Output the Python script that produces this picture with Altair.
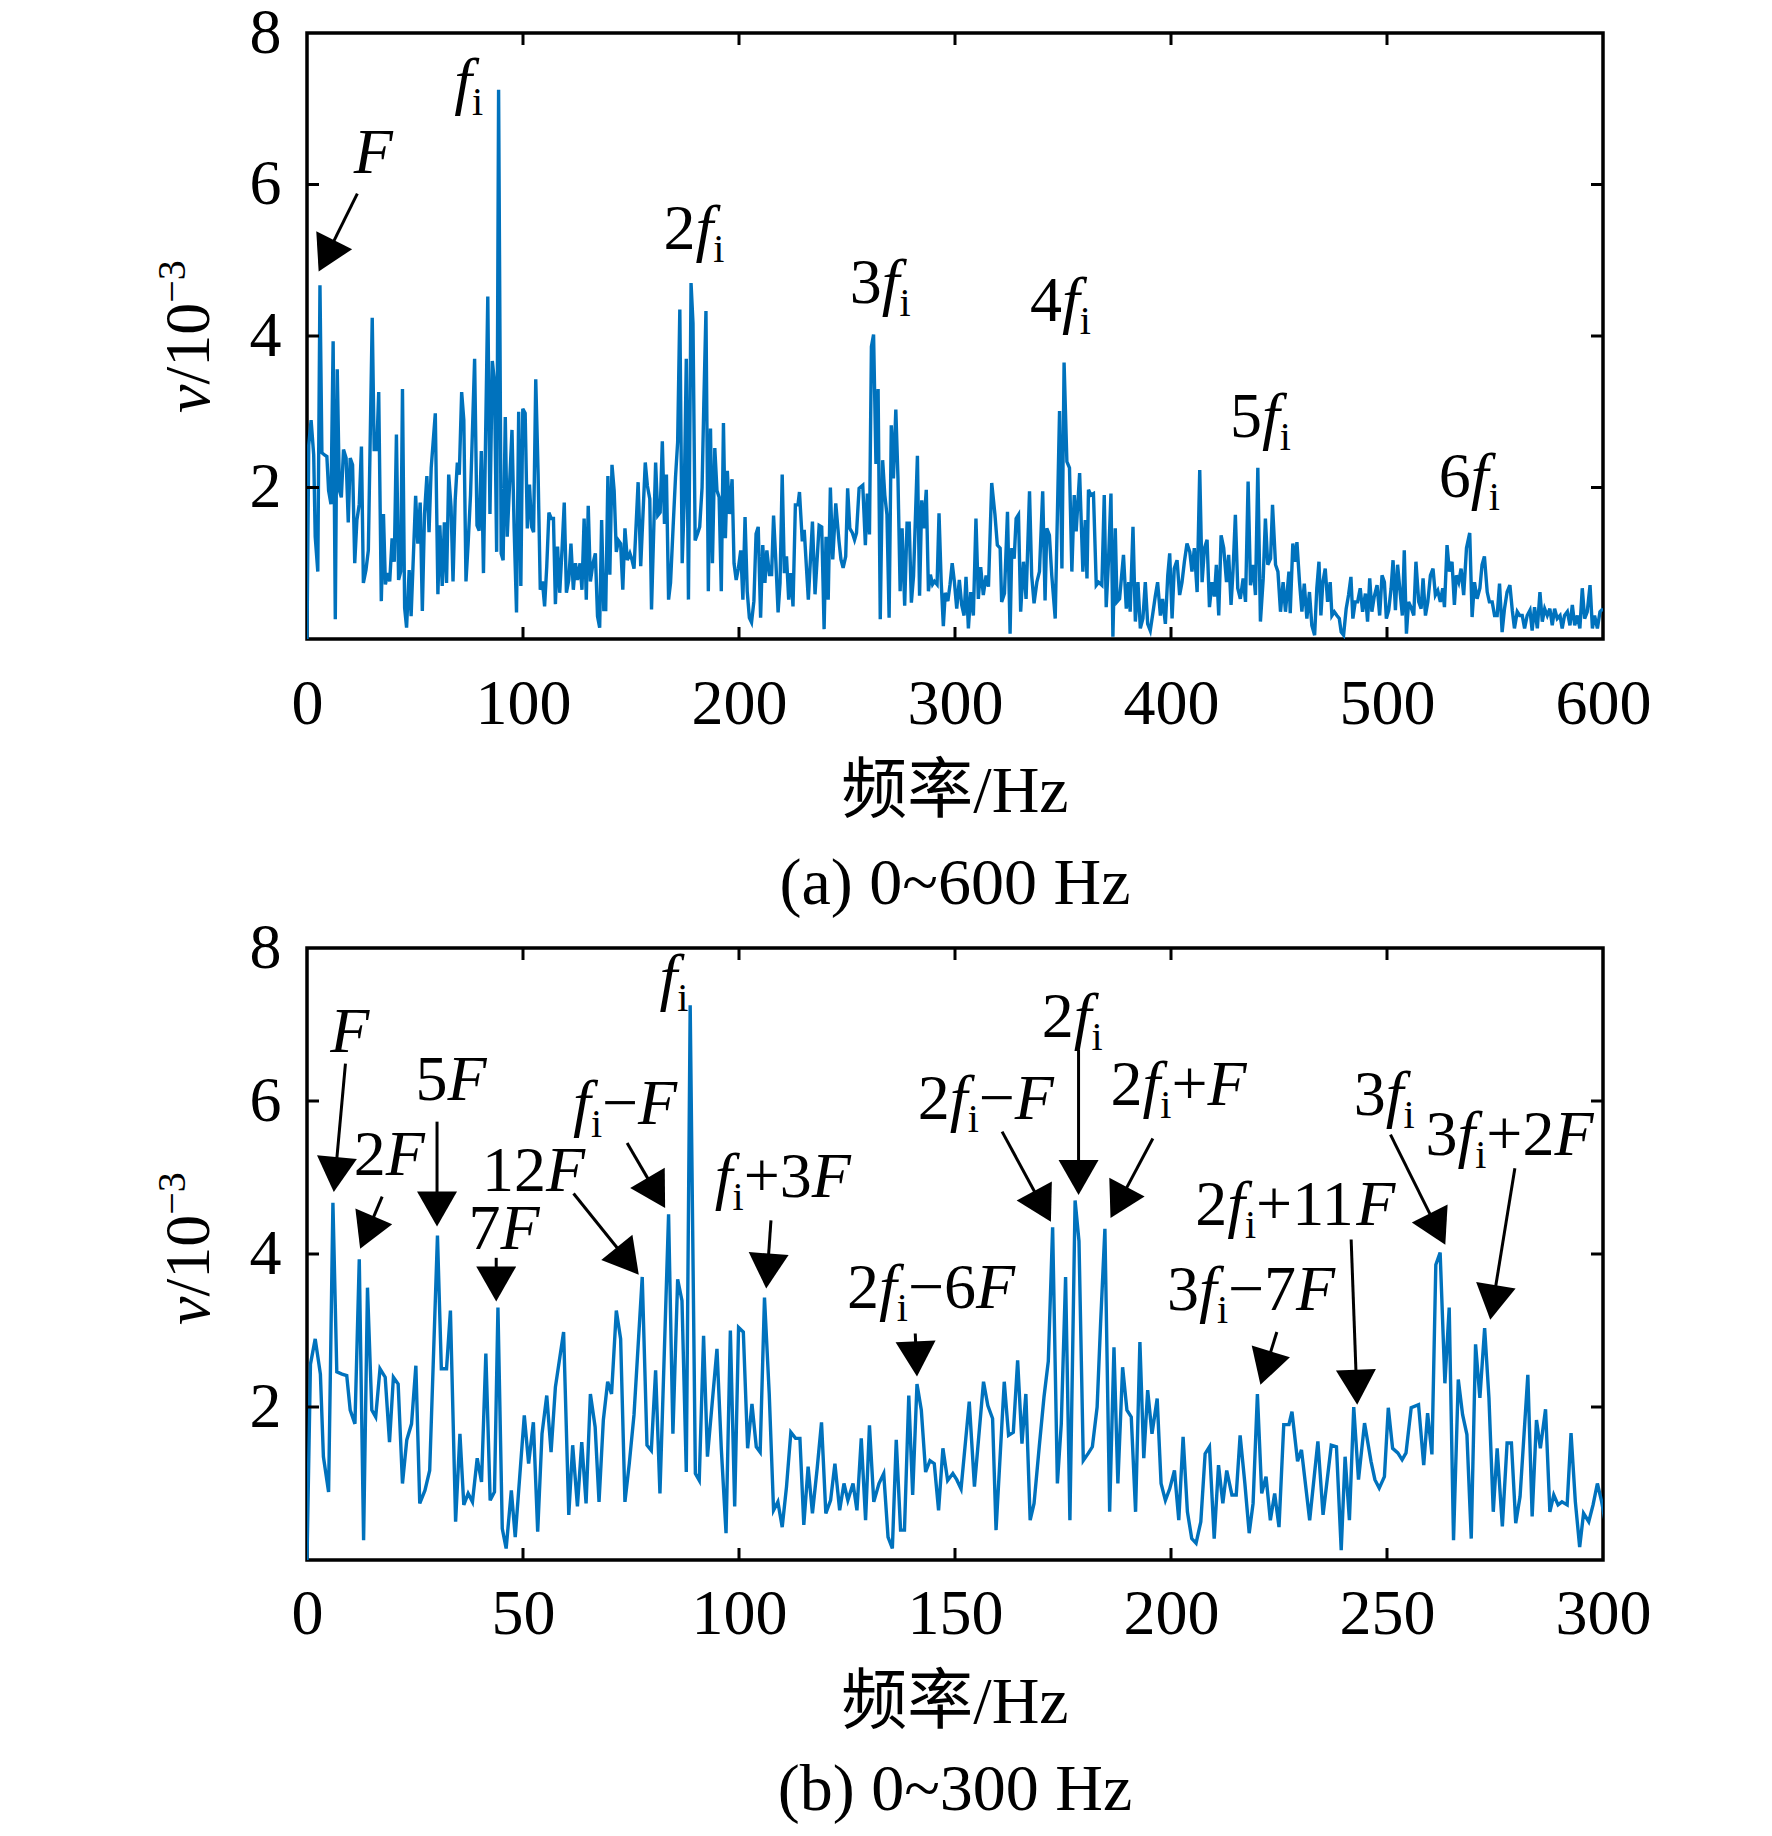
import math
import altair as alt
import pandas as pd

# ---------------- data ----------------
# spectrum 0-300 Hz
FREQ_LOW = [0, 0.8, 1.9, 3.1, 3.8, 5.0, 6.0, 6.9, 8.1, 9.2, 10.0, 11.1, 12.1, 13.1, 14.0, 15.0, 15.9, 16.9,
            18.1, 19.1, 20.0, 21.1, 22.1, 23.1, 24.2, 25.2, 26.1, 27.3, 28.4, 30.2, 31.1, 32.3, 33.2, 34.4,
            35.4, 36.3, 37.3, 38.3, 39.4, 40.4, 41.4, 42.4, 43.4, 44.2, 45.2, 46.1, 47.3, 48.2, 50.3, 51.3,
            52.4, 53.4, 54.4, 55.5, 56.5, 57.5, 58.4, 59.4, 60.6, 61.5, 62.6, 63.6, 64.6, 65.6, 66.7, 67.6,
            68.6, 69.6, 70.5, 71.6, 72.6, 73.6, 74.6, 75.7, 77.6, 78.7, 79.7, 80.7, 81.7, 83.7, 84.7, 85.8,
            86.8, 87.8, 88.7, 89.9, 90.8, 91.8, 92.7, 94.9, 95.9, 97.0, 98.0, 99.0, 99.9, 101.0, 102.0, 103.0,
            104.0, 104.9, 105.9, 107.0, 108.0, 109.0, 110.0, 111.0, 112.0, 113.1, 114.1, 115.0, 116.0, 117.0,
            118.1, 119.1, 120.1, 121.2, 122.2, 123.3, 124.3, 125.2, 126.4, 127.3, 128.3, 129.3, 130.2, 131.2,
            132.4, 133.5, 134.5, 135.5, 136.4, 137.4, 138.3, 139.3, 140.2, 141.2, 142.2, 143.2, 144.2, 145.2,
            146.2, 147.2, 148.3, 149.5, 150.4, 151.4, 153.3, 154.5, 156.6, 157.6, 158.7, 159.5, 161.4, 162.4,
            163.5, 164.5, 165.5, 166.4, 167.4, 168.3, 169.5, 170.6, 171.6, 172.6, 173.7, 174.6, 175.6, 176.6,
            177.8, 178.7, 179.7, 180.8, 181.8, 182.9, 183.7, 184.7, 185.8, 186.8, 187.7, 188.8, 189.8, 190.8,
            191.8, 192.8, 193.7, 194.6, 195.6, 196.8, 197.7, 198.7, 199.7, 200.8, 201.8, 202.8, 203.8, 204.8,
            205.8, 206.9, 207.9, 208.9, 210.0, 211.0, 212.0, 212.9, 214.1, 215.1, 216.0, 217.1, 218.1, 219.0,
            220.0, 221.0, 222.0, 223.0, 224.0, 225.0, 226.1, 227.3, 228.0, 229.3, 230.2, 232.1, 234.0, 235.2,
            237.1, 238.3, 239.4, 240.3, 241.3, 242.3, 243.4, 244.8, 246.3, 247.2, 248.2, 249.4, 250.3, 251.3,
            252.5, 253.5, 254.4, 255.6, 257.3, 258.5, 259.4, 260.4, 261.3, 262.3, 263.4, 264.4, 265.4, 266.5,
            267.5, 268.5, 269.5, 270.5, 271.5, 272.6, 273.6, 274.6, 275.5, 276.7, 277.8, 278.8, 279.8, 280.8,
            282.6, 283.6, 284.6, 285.5, 286.7, 287.7, 288.6, 289.6, 290.5, 291.7, 292.6, 293.6, 294.6, 295.5,
            296.7, 297.7, 298.7, 299.7]
AMP_LOW = [0.0, 2.56, 2.89, 2.43, 1.35, 0.89, 4.67, 2.46, 2.43, 2.41, 1.96, 1.78, 3.93, 0.26, 3.56, 1.96, 1.87, 2.5,
           2.39, 1.54, 2.39, 2.3, 1.0, 1.57, 1.78, 2.54, 0.74, 0.91, 1.17, 4.24, 2.5, 2.5, 3.26, 0.5,
           1.65, 0.72, 0.87, 0.76, 1.33, 1.02, 2.7, 0.78, 0.89, 3.3, 0.41, 0.15, 0.91, 0.3, 1.89, 1.26,
           1.8, 0.37, 1.65, 2.15, 1.41, 2.26, 2.6, 2.98, 0.59, 1.5, 0.7, 1.54, 0.74, 2.17, 1.74, 0.76,
           1.83, 2.33, 2.17, 3.26, 2.89, 0.76, 1.26, 1.9, 3.7, 1.5, 1.43, 2.48, 0.87, 4.52, 1.65, 3.67,
           3.39, 1.15, 7.25, 1.13, 1.04, 2.93, 1.35, 2.76, 1.46, 0.35, 3.0, 0.7, 3.04, 2.98, 1.46, 2.04,
           1.48, 1.41, 3.43, 2.17, 0.65, 0.76, 0.43, 0.96, 1.67, 1.59, 1.59, 0.46, 1.22, 0.61,
           1.2, 1.8, 0.61, 0.78, 1.26, 0.65, 1.0, 0.78, 1.0, 0.65, 1.59, 0.52, 1.76, 0.76,
           1.0, 1.13, 0.3, 0.15, 1.57, 0.39, 0.39, 2.15, 0.85, 2.3, 1.96, 1.15, 1.3, 1.26,
           0.65, 1.46, 1.04, 1.13, 1.05, 0.93, 2.07, 0.96, 2.33, 2.02, 1.85, 0.39, 2.33, 1.63,
           1.67, 2.61, 1.52, 2.17, 0.52, 0.74, 1.48, 2.13, 2.6, 4.35, 1.0, 1.78, 3.7, 0.52,
           4.7, 4.17, 1.3, 1.39, 1.48, 2.0, 3.09, 4.33, 0.63, 2.78, 1.0, 2.52, 1.96, 1.87,
           0.63, 2.85, 1.33, 2.22, 1.65, 2.11, 1.0, 0.78, 0.93, 1.17, 0.52, 1.61, 0.63, 0.28,
           0.22, 0.5, 1.39, 1.48, 0.28, 1.24, 0.74, 1.17, 0.85, 0.85, 1.63, 1.0, 0.35, 0.74,
           2.17, 0.87, 1.09, 0.52, 0.87, 0.43, 1.77, 1.77, 1.94, 1.29, 1.44, 0.52, 1.55, 0.59,
           1.5, 1.48, 0.13, 1.35, 0.52, 2.0, 1.05, 1.79, 1.29, 1.05, 0.94, 1.09, 1.99, 1.46,
           1.4, 1.31, 1.4, 1.99, 2.03, 1.24, 1.92, 1.38, 3.86, 4.02, 2.31, 3.3, 0.26, 2.36,
           1.9, 1.64, 0.28, 2.82, 2.12, 3.03, 2.12, 0.63, 1.46, 0.44, 1.53, 1.53, 0.48, 0.83,
           2.42, 0.57, 1.83, 1.46, 1.97, 0.63, 0.85, 0.72, 0.76, 0.72, 1.66, 0.76, 0.17, 0.61,
           0.5, 0.72, 1.0, 0.76]
# spectrum 300-600 Hz
FREQ_HIGH = [300.8, 302.0, 303.1, 304.2, 305.1, 306.2, 307.3, 308.5, 309.7, 310.8, 311.9, 313.1, 314.4, 315.5,
             317.0, 318.5, 319.6, 320.9, 321.6, 322.9, 324.3, 325.5, 326.3, 327.4, 328.3, 329.4, 330.4, 331.7,
             332.9, 334.5, 335.5, 336.6, 337.9, 339.1, 340.6, 341.7, 342.5, 343.7, 344.8, 346.4, 348.4, 349.5,
             350.5, 351.8, 353.0, 354.1, 355.2, 356.1, 357.7, 359.2, 360.3, 361.1, 361.8, 362.9, 364.1, 365.4,
             366.5, 368.0, 369.1, 370.0, 371.1, 372.2, 373.1, 374.2, 375.0, 376.2, 377.3, 378.0, 379.3, 380.4,
             381.1, 382.4, 383.5, 384.7, 385.8, 387.0, 388.1, 389.2, 390.4, 391.7, 392.7, 393.8, 395.1, 396.1,
             397.4, 398.5, 399.4, 400.5, 401.5, 402.8, 404.0, 405.1, 406.2, 407.4, 408.7, 409.7, 410.8, 412.1,
             413.3, 414.4, 415.5, 416.7, 417.8, 419.0, 420.1, 421.0, 422.1, 423.2, 424.4, 425.7, 426.7, 427.8,
             428.7, 429.8, 430.9, 432.1, 433.4, 434.5, 435.7, 436.8, 438.0, 439.1, 440.2, 441.4, 442.7, 443.7,
             444.8, 446.1, 447.0, 448.4, 449.5, 450.7, 451.9, 453.0, 454.6, 455.2, 456.4, 457.5, 458.3, 459.5,
             460.6, 461.7, 462.9, 464.1, 465.2, 466.5, 467.5, 468.5, 469.4, 470.3, 471.4, 472.5, 473.7, 474.5,
             475.6, 476.8, 477.9, 478.8, 479.9, 481.1, 482.2, 483.3, 484.2, 485.3, 486.4, 487.6, 488.7, 490.0,
             491.0, 492.0, 493.0, 494.1, 495.4, 496.6, 497.7, 498.8, 499.7, 500.8, 501.9, 502.8, 503.9, 504.9,
             506.2, 507.1, 508.0, 509.0, 510.0, 511.1, 512.4, 513.4, 514.7, 515.8, 516.7, 517.8, 518.9, 520.1,
             521.3, 522.4, 523.5, 524.7, 525.8, 526.6, 527.8, 528.9, 530.1, 531.2, 532.1, 533.2, 534.3, 535.5,
             536.8, 538.3, 539.4, 540.5, 541.7, 543.0, 544.0, 545.1, 546.4, 547.4, 548.7, 549.8, 551.0, 552.1,
             553.3, 554.4, 555.6, 556.9, 558.0, 559.0, 560.3, 561.4, 562.6, 563.7, 564.9, 566.2, 567.2, 568.3,
             569.6, 570.8, 571.9, 573.0, 574.2, 575.4, 576.5, 577.6, 578.8, 580.1, 581.1, 582.2, 583.5, 584.7,
             585.8, 586.9, 588.1, 589.3, 590.4, 591.5, 592.7, 594.0, 595.1, 596.1, 597.4, 598.6, 600.0]
AMP_HIGH = [0.40, 0.78, 0.45, 0.31, 0.82, 0.14, 0.62, 0.31, 1.59, 0.53, 0.95, 0.58, 0.84, 0.69,
            2.06, 1.64, 1.24, 1.2, 0.49, 0.6, 1.68, 0.07, 1.2, 1.06, 1.59, 1.64, 0.36, 1.02,
            0.53, 1.95, 0.84, 0.47, 0.75, 0.89, 1.95, 0.51, 1.46, 1.37, 0.84, 0.27, 3.01, 0.93,
            3.65, 2.34, 2.26, 0.89, 1.9, 1.42, 2.19, 0.89, 1.57, 0.8, 1.97, 1.9, 1.92, 0.71,
            0.75, 0.71, 1.9, 0.42, 1.06, 1.92, 0.03, 1.46, 0.49, 0.53, 0.89, 1.11, 0.4, 0.75,
            0.36, 1.48, 0.23, 0.75, 0.14, 0.27, 0.75, 0.2, 0.11, 0.36, 0.56, 0.75, 0.31, 0.53,
            0.2, 0.84, 1.13, 0.27, 0.93, 1.04, 0.58, 0.75, 1.02, 1.26, 1.15, 0.89, 1.2, 0.62,
            2.23, 0.75, 1.2, 1.31, 0.42, 0.75, 0.56, 0.98, 0.31, 1.37, 1.2, 0.75, 1.11, 0.45,
            0.89, 1.64, 0.67, 0.53, 0.8, 0.49, 2.08, 0.71, 0.98, 0.58, 2.26, 0.23, 0.8, 1.59,
            0.98, 1.06, 1.77, 0.98, 0.89, 0.36, 0.75, 0.36, 0.89, 0.34, 1.26, 1.02, 1.28, 0.75,
            0.36, 0.73, 0.27, 0.62, 0.18, 0.05, 0.67, 1.02, 0.31, 0.75, 0.93, 0.49, 0.75, 0.31,
            0.36, 0.31, 0.27, 0.09, 0.05, 0.4, 0.58, 0.82, 0.27, 0.49, 0.49, 0.67, 0.36, 0.6,
            0.23, 0.8, 0.36, 0.56, 0.71, 0.31, 0.84, 0.75, 0.27, 0.38, 0.67, 1.04, 0.38, 0.98,
            0.58, 0.31, 1.17, 0.07, 0.49, 0.42, 0.31, 1.02, 0.49, 0.4, 0.8, 0.31, 0.49, 0.84,
            0.93, 0.58, 0.64, 0.49, 0.67, 0.42, 1.24, 0.89, 1.02, 0.45, 0.84, 0.75, 0.93, 0.58,
            1.2, 1.4, 0.29, 0.75, 0.53, 0.67, 0.98, 1.09, 0.62, 0.49, 0.49, 0.31, 0.31, 0.73,
            0.09, 0.4, 0.62, 0.71, 0.38, 0.14, 0.36, 0.31, 0.31, 0.14, 0.31, 0.38, 0.11, 0.42,
            0.14, 0.62, 0.23, 0.4, 0.31, 0.4, 0.18, 0.4, 0.27, 0.31, 0.14, 0.31, 0.36, 0.18,
            0.45, 0.18, 0.31, 0.14, 0.67, 0.27, 0.36, 0.71, 0.14, 0.31, 0.14, 0.36, 0.4]

X_TICKS_A = [0, 100, 200, 300, 400, 500, 600]
X_TICKS_B = [0, 50, 100, 150, 200, 250, 300]
Y_TICKS = [2, 4, 6, 8]

XTITLE = "频率/Hz"
CAPTION_A = "(a) 0~600 Hz"
CAPTION_B = "(b) 0~300 Hz"

# annotation labels: (markup, left frequency, baseline amplitude); "_i" = subscript i
LABELS_A = [("F", 21.7, 6.15), ("f_i", 68.2, 7.09), ("2f_i", 165.0, 5.15), ("3f_i", 251.3, 4.44),
            ("4f_i", 334.7, 4.2), ("5f_i", 427.3, 2.67), ("6f_i", 524.0, 1.87)]
# arrows: (tail freq, tail amp, tip freq, tip amp)
ARROWS_A = [(23.3, 5.88, 5.4, 4.85)]

LABELS_B = [("F", 5.4, 6.64), ("2F", 10.8, 5.03), ("5F", 25.1, 6.01), ("7F", 37.4, 4.07),
            ("12F", 40.5, 4.82), ("f_i\u2212F", 61.6, 5.7), ("f_i", 81.6, 7.35), ("f_i+3F", 94.4, 4.75),
            ("2f_i\u22126F", 125.0, 3.29), ("2f_i\u2212F", 141.4, 5.77), ("2f_i", 170.1, 6.84),
            ("2f_i+F", 186.0, 5.95), ("3f_i\u22127F", 199.1, 3.27), ("2f_i+11F", 205.6, 4.38),
            ("3f_i", 242.3, 5.82), ("3f_i+2F", 258.9, 5.29)]
ARROWS_B = [(8.9, 6.49, 6.2, 4.81), (17.4, 4.75, 12.3, 4.07), (30.1, 5.73, 30.1, 4.36),
            (43.8, 3.95, 43.8, 3.38), (61.7, 4.79, 76.8, 3.73), (74.1, 5.45, 82.9, 4.6),
            (107.4, 4.44, 106.3, 3.55), (140.8, 2.96, 141.2, 2.4), (160.9, 5.6, 172.2, 4.42),
            (178.6, 6.67, 178.6, 4.77), (195.8, 5.51, 186.0, 4.47), (224.5, 2.98, 220.7, 2.29),
            (241.7, 4.19, 243.1, 2.03), (250.8, 5.56, 263.5, 4.12), (279.6, 5.12, 273.9, 3.14)]

# ---------------- styling ----------------
FONT = "Liberation Serif"
FONT_CJK = "Liberation Serif, Noto Sans CJK SC"
BLUE = "#0072BD"
FS = 64
FS_SUB = 40
FS_TITLE = 66
W = 1296
H_A = 606
H_B = 612

EM_N = {"0": .5, "1": .5, "2": .5, "3": .5, "4": .5, "5": .5, "6": .5, "7": .5, "8": .5, "9": .5,
        "+": .564, "\u2212": .564, "i": .278, "/": .278}
EM_IT = {"f": .278, "F": .611, "v": .444}

ARROW_PATH = "M0,0L-1,-1.75L1,-1.75Z"


def parse(markup):
    segs = []
    k = 0
    while k < len(markup):
        ch = markup[k]
        if ch == "_":
            st, c = "sub", markup[k + 1]
            k += 2
        else:
            st, c = ("it" if ch in EM_IT else "n"), ch
            k += 1
        if segs and segs[-1][1] == st:
            segs[-1][0] += c
        else:
            segs.append([c, st])
    return segs


def seg_width(text, style):
    if style == "it":
        return sum(EM_IT[c] for c in text) * FS
    if style == "sub":
        return sum(EM_N[c] for c in text) * FS_SUB
    return sum(EM_N[c] for c in text) * FS


def label_frame(labels, px_per_x):
    rows = []
    for markup, x0, y0 in labels:
        off = 0.0
        for text, style in parse(markup):
            rows.append({"x": x0 + off / px_per_x, "y": y0, "text": text, "style": style})
            off += seg_width(text, style)
    return pd.DataFrame(rows)


def arrow_frame(arrows, px_x, px_y):
    rows = []
    for tx, ty, hx, hy in arrows:
        dxp = (hx - tx) * px_x
        dyp = -(hy - ty) * px_y
        L = math.hypot(dxp, dyp)
        ang = math.degrees(math.atan2(-dxp, dyp)) % 360
        back = 24.0
        ex = hx - (dxp / L * back) / px_x
        ey = hy + (dyp / L * back) / px_y
        rows.append({"x": tx, "y": ty, "x2": ex, "y2": ey, "hx": hx, "hy": hy, "angle": ang})
    return pd.DataFrame(rows)


def panel(spec_df, xmax, height, xticks, labels, arrows, caption, label_pad, title_off, cap_off, ytitle_y):
    xs = alt.Scale(domain=[0, xmax], nice=False, zero=False)
    ys = alt.Scale(domain=[0, 8], nice=False, zero=False)
    xax = alt.Axis(values=xticks, title=None, grid=False, domain=False, ticks=False, tickSize=0,
                   labelFlush=False, labelPadding=label_pad, labelFont=FONT, labelFontSize=FS,
                   labelColor="black", labelOverlap=False)
    yax = alt.Axis(values=Y_TICKS, title=None, grid=False, domain=False, ticks=False, tickSize=0,
                   labelPadding=26, labelFont=FONT, labelFontSize=FS, labelColor="black",
                   labelOverlap=False)

    def X(field):
        return alt.X(field, scale=xs, axis=xax, title=None)

    def Y(field):
        return alt.Y(field, scale=ys, axis=yax, title=None)

    px_x = W / xmax
    px_y = height / 8.0

    line = alt.Chart(spec_df).mark_line(color=BLUE, strokeWidth=3.4, clip=True).encode(
        x=X("f:Q"), y=Y("a:Q"), order="f:Q")

    xt = pd.DataFrame({"t": xticks[1:-1]})
    yt = pd.DataFrame({"t": Y_TICKS[:-1]})
    tick_kw = dict(color="black", strokeWidth=3)
    xb = alt.Chart(xt).mark_rule(**tick_kw).encode(x=X("t:Q"), y=alt.value(height),
                                                     y2=alt.value(height - 12))
    xtp = alt.Chart(xt).mark_rule(**tick_kw).encode(x=X("t:Q"), y=alt.value(0), y2=alt.value(12))
    yl = alt.Chart(yt).mark_rule(**tick_kw).encode(y=Y("t:Q"), x=alt.value(0), x2=alt.value(12))
    yr = alt.Chart(yt).mark_rule(**tick_kw).encode(y=Y("t:Q"), x=alt.value(W - 12), x2=alt.value(W))

    adf = arrow_frame(arrows, px_x, px_y)
    shafts = alt.Chart(adf).mark_rule(color="black", strokeWidth=3).encode(
        x=X("x:Q"), y=Y("y:Q"), x2="x2:Q", y2="y2:Q")
    heads = alt.Chart(adf).mark_point(shape=ARROW_PATH, size=1600, filled=True, color="black",
                                      opacity=1, strokeWidth=0).encode(
        x=X("hx:Q"), y=Y("hy:Q"), angle=alt.Angle("angle:Q", scale=None))

    ldf = label_frame(labels, px_x)
    txt_layers = []
    for style, kw in [("n", dict(fontSize=FS)), ("it", dict(fontSize=FS, fontStyle="italic")),
                      ("sub", dict(fontSize=FS_SUB, dy=13))]:
        sub = ldf[ldf["style"] == style]
        if len(sub):
            txt_layers.append(alt.Chart(sub).mark_text(font=FONT, align="left", baseline="alphabetic",
                                                       color="black", **kw).encode(
                x=X("x:Q"), y=Y("y:Q"), text="text:N"))

    one = pd.DataFrame({"k": [0]})
    yv = alt.Chart(one).mark_text(text="v", font=FONT, fontSize=FS, fontStyle="italic", angle=270,
                                  align="left", baseline="alphabetic", color="black").encode(
        x=alt.value(-98), y=alt.value(ytitle_y))
    y10 = alt.Chart(one).mark_text(text="/10", font=FONT, fontSize=FS, angle=270, align="left",
                                   baseline="alphabetic", color="black").encode(
        x=alt.value(-98), y=alt.value(ytitle_y - EM_IT["v"] * FS))
    yexp = alt.Chart(one).mark_text(text="\u22123", font=FONT, fontSize=FS_SUB, angle=270, align="left",
                                    baseline="alphabetic", color="black").encode(
        x=alt.value(-122), y=alt.value(ytitle_y - EM_IT["v"] * FS - 1.278 * FS))

    xtitle = alt.Chart(one).mark_text(text=XTITLE, font=FONT_CJK, fontSize=FS_TITLE, align="center",
                                      baseline="alphabetic", color="black").encode(
        x=alt.value(W / 2), y=alt.value(height + title_off))
    cap = alt.Chart(one).mark_text(text=caption, font=FONT, fontSize=FS_TITLE, align="center",
                                   baseline="alphabetic", color="black").encode(
        x=alt.value(W / 2), y=alt.value(height + cap_off))

    return alt.layer(line, xb, xtp, yl, yr, shafts, heads, *txt_layers, yv, y10, yexp, xtitle, cap).properties(
        width=W, height=height)


full = pd.DataFrame({"f": FREQ_LOW + FREQ_HIGH, "a": AMP_LOW + AMP_HIGH})
low = pd.DataFrame({"f": FREQ_LOW + FREQ_HIGH[:2], "a": AMP_LOW + AMP_HIGH[:2]})

top = panel(full, 600, H_A, X_TICKS_A, LABELS_A, ARROWS_A, CAPTION_A, 33, 173, 265, 380)
bottom = panel(low, 300, H_B, X_TICKS_B, LABELS_B, ARROWS_B, CAPTION_B, 22, 163, 250, 377)

chart = alt.vconcat(top, bottom, spacing=309, bounds="flush").properties(
    padding={"left": 143, "top": -9, "right": 10, "bottom": 0},
    background="white",
).configure_view(stroke="black", strokeWidth=3.5)

chart.save("out.html", embed_options={"renderer": "svg", "actions": False})
